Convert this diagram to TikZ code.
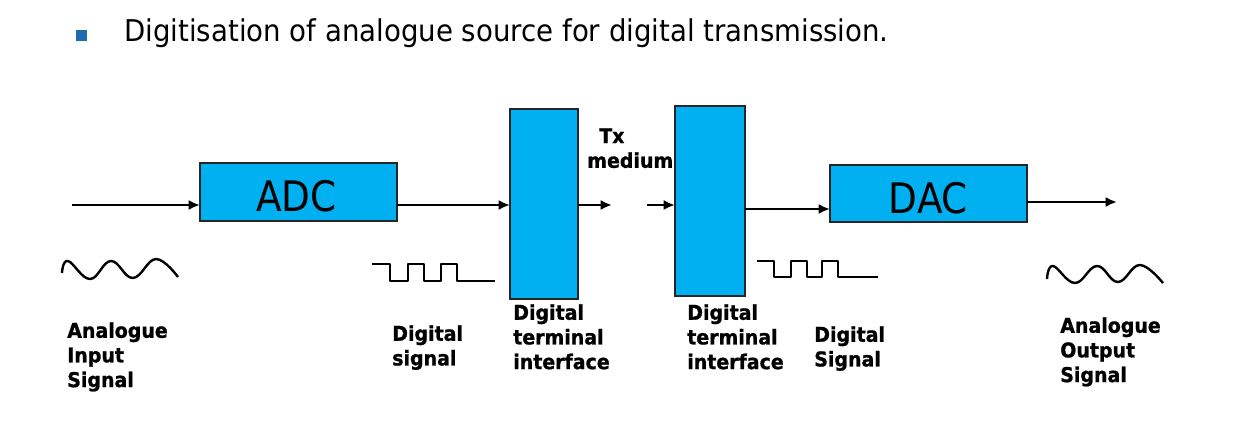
\documentclass[tikz,border=0pt]{standalone}
\usepackage{fontspec}
\setmainfont{DejaVu Sans}
\newfontfamily\titlefont{DejaVu Sans}[FakeStretch=0.92]
\newfontfamily\bigfont{DejaVu Sans}[FakeStretch=0.89]
\newfontfamily\lblfont{DejaVu Sans}[FakeStretch=0.93, FakeBold=1]
\usetikzlibrary{arrows.meta}
\definecolor{boxblue}{HTML}{00B0F0}
\definecolor{bulletblue}{HTML}{1F6BB0}
\tikzset{
  blk/.style={draw=black!85, fill=boxblue, line width=1.1pt, inner sep=0pt, outer sep=0pt},
  conn/.style={line width=1.8pt, -{Latex[length=8.5pt,width=7.5pt]}},
  wave/.style={line width=1.8pt, line join=round},
  lbl/.style={anchor=north west, align=left, inner sep=0pt, font=\lblfont\bfseries\fontsize{15.3}{18.5}\selectfont},
  big/.style={inner sep=0pt, font=\bigfont\fontsize{31.5}{34}\selectfont}
}
\begin{document}
\begin{tikzpicture}[x=0.75pt,y=-0.75pt]
\useasboundingbox (0,0) rectangle (1242,424);
% title
\fill[bulletblue] (76,30) rectangle (87,41);
\node[anchor=base west, inner sep=0pt, font=\titlefont\fontsize{22.5}{26}\selectfont] (title) at (124,42) {Digitisation of analogue source for digital transmission.};
% boxes
\node[blk, minimum width=147.75pt, minimum height=43.5pt] (adc) at (298.5,192) {};
\node[big] (adct) at (296.5,196.5) {ADC};
\node[blk, minimum width=51pt, minimum height=142.5pt] (d1) at (544,204) {};
\node[blk, minimum width=52.5pt, minimum height=142.5pt] (d2) at (710,201) {};
\node[blk, minimum width=147.75pt, minimum height=42.75pt] (dac) at (928.5,193.5) {};
\node[big] (dact) at (928.5,198.5) {DAC};
% connector ends
\coordinate (in) at (72,205);
\coordinate (y1) at (0,205);
\coordinate (txa) at (612,205);
\coordinate (txb) at (647,205);
\coordinate (y2) at (0,209);
\coordinate (out) at (1117,202);
\draw[conn] (in) -- (in -| adc.west);
\draw[conn] (y1 -| adc.east) -- (y1 -| d1.west);
\draw[conn] (y1 -| d1.east) -- (txa);
\draw[conn] (txb) -- (txb -| d2.west);
\draw[conn] (y2 -| d2.east) -- (y2 -| dac.west);
\draw[conn] (out -| dac.east) -- (out);
% waves
\draw[wave] plot[smooth, tension=0.7] coordinates {(62,273) (68,261) (90,279) (111,261) (133,278) (156,259) (178,277)};
\draw[wave] plot[smooth, tension=0.7] coordinates {(1047,279) (1053,266) (1075,283) (1097,266) (1118,282) (1140,265) (1163,283)};
\draw[wave] (372,264) -- (390,264) -- (390,281) -- (408,281) -- (408,264) -- (424,264) -- (424,281) -- (441,281) -- (441,264) -- (457,264) -- (457,281) -- (495,281);
\draw[wave] (757,261) -- (774,261) -- (774,277) -- (791,277) -- (791,261) -- (807,261) -- (807,277) -- (822,277) -- (822,261) -- (838,261) -- (838,277) -- (878,277);
% labels
\node[lbl] (l1) at (67,322) {Analogue\\Input\\Signal};
\node[lbl] (l2) at (392,325) {Digital\\signal};
\node[lbl] (l3) at (513,304) {Digital\\terminal\\interface};
\node[lbl] (tx) at (587,128) {\hspace{9pt}Tx\\medium};
\node[lbl] (l4) at (687,304) {Digital\\terminal\\interface};
\node[lbl] (l5) at (814,326) {Digital\\Signal};
\node[lbl] (l6) at (1060,317) {Analogue\\Output\\Signal};
\end{tikzpicture}
\end{document}
